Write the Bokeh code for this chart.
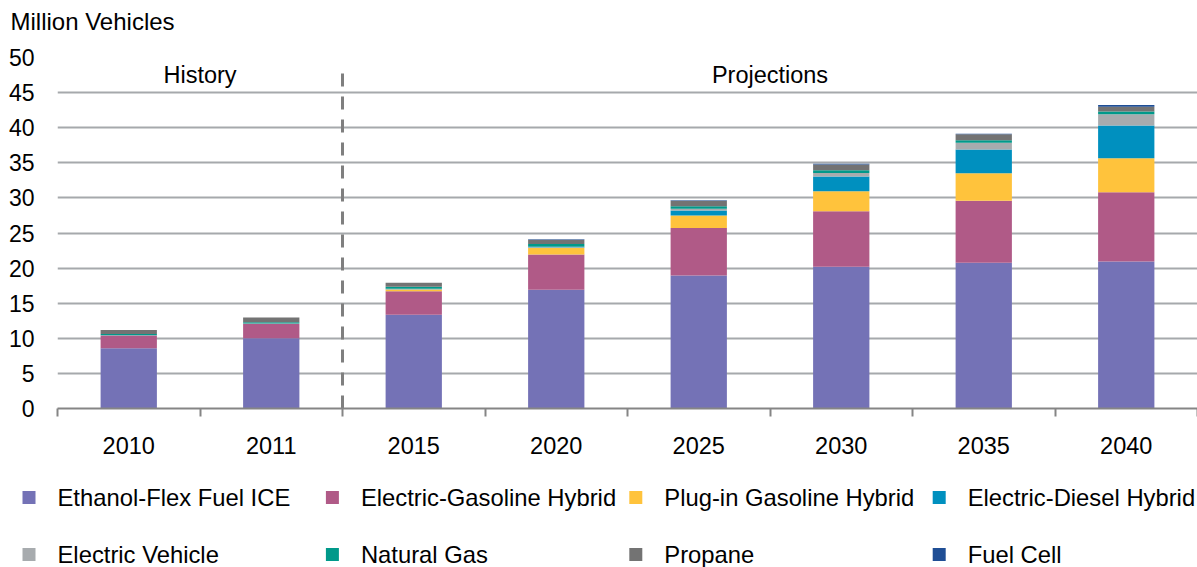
from bokeh.plotting import figure
from bokeh.models import (Range1d, LinearAxis, FixedTicker, Label, ColumnDataSource)
from bokeh.layouts import column
from bokeh.core.properties import value
from bokeh.embed import file_html
from bokeh.resources import INLINE

# ---------------- data ----------------
years = ["2010", "2011", "2015", "2020", "2025", "2030", "2035", "2040"]
history_years = ["2010", "2011"]
ethanol_flex = [8.6, 10.0, 13.35, 16.9, 18.95, 20.2, 20.75, 20.95]
electric_gasoline = [1.8, 2.05, 3.35, 5.05, 6.75, 7.9, 8.85, 9.85]
plugin_gasoline = [0.0, 0.0, 0.25, 0.9, 1.8, 2.85, 3.9, 4.85]
electric_diesel = [0.0, 0.0, 0.05, 0.1, 0.7, 2.1, 3.4, 4.65]
electric_vehicle = [0.05, 0.05, 0.05, 0.1, 0.25, 0.5, 0.95, 1.6]
natural_gas = [0.15, 0.2, 0.3, 0.4, 0.35, 0.4, 0.35, 0.4]
propane = [0.6, 0.65, 0.55, 0.6, 0.8, 0.8, 0.85, 0.7]
fuel_cell = [0.0, 0.0, 0.0, 0.05, 0.05, 0.1, 0.1, 0.25]

series_names = ["Ethanol-Flex Fuel ICE", "Electric-Gasoline Hybrid", "Plug-in Gasoline Hybrid",
                "Electric-Diesel Hybrid", "Electric Vehicle", "Natural Gas", "Propane", "Fuel Cell"]
series_keys = ["ethanol", "egas", "plugin", "ediesel", "ev", "ng", "propane", "fuelcell"]
series_colors = ["#7472B6", "#B05A87", "#FFC33C", "#0090BF", "#A7ABAE", "#00998A", "#737373", "#1F4E95"]
y_ticks = [0, 5, 10, 15, 20, 25, 30, 35, 40, 45, 50]
y_title = "Million Vehicles"

FONT = "Liberation Sans"
FS = "23px"
W = 1197
TOP_H = 40
MAIN_H = 436
LEG_H = 91


def strip(height):
    f = figure(width=W, height=height, x_range=Range1d(0, W), y_range=Range1d(height, 0),
               output_backend="svg", toolbar_location=None,
               x_axis_location=None, y_axis_location=None,
               min_border_left=0, min_border_right=0, min_border_top=0, min_border_bottom=0)
    f.outline_line_color = None
    f.xgrid.visible = False
    f.ygrid.visible = False
    if "frame_align" in f.properties():
        f.frame_align = False
    return f


# ---------------- title strip ----------------
top = strip(TOP_H)
top.text(x=[10], y=[21], text=[y_title], text_font=value(FONT), text_font_size="24px",
         text_color="#000000", text_baseline="middle", text_align="left")

# ---------------- main chart ----------------
xpos = [i + 0.5 for i in range(len(years))]
bounds = list(range(len(years) + 1))

source = ColumnDataSource(dict(
    x=xpos, year=years, ethanol=ethanol_flex, egas=electric_gasoline, plugin=plugin_gasoline,
    ediesel=electric_diesel, ev=electric_vehicle, ng=natural_gas, propane=propane,
    fuelcell=fuel_cell))

p = figure(width=W, height=MAIN_H, x_range=Range1d(0, len(years)), y_range=Range1d(0, 50),
           output_backend="svg", toolbar_location=None, x_axis_location=None,
           min_border_left=57, min_border_right=0, min_border_top=17, min_border_bottom=68)
p.outline_line_color = None
p.background_fill_color = "white"
p.border_fill_color = "white"
if "frame_align" in p.properties():
    p.frame_align = False

p.vbar_stack(series_keys, x="x", width=0.395, source=source,
             color=series_colors, line_width=0)

p.xgrid.grid_line_color = None
p.ygrid.grid_line_color = "#A6A9AC"
p.ygrid.grid_line_width = 2
p.ygrid.ticker = FixedTicker(ticks=y_ticks)
yax = p.yaxis[0]
yax.ticker = FixedTicker(ticks=y_ticks)
yax.axis_line_color = None
yax.major_tick_line_color = None
yax.minor_tick_line_color = None
yax.major_label_text_font = FONT
yax.major_label_text_font_size = FS
yax.major_label_text_color = "#000000"
yax.major_label_standoff = 17

tick_axis = LinearAxis(ticker=FixedTicker(ticks=bounds),
                       major_label_overrides={b: "" for b in bounds},
                       axis_line_color="#858585", axis_line_width=2,
                       major_tick_line_color="#858585", major_tick_line_width=2,
                       major_tick_in=0, major_tick_out=8, minor_tick_line_color=None,
                       major_label_text_font_size="1px", major_label_standoff=0)
p.add_layout(tick_axis, "below")
label_axis = LinearAxis(ticker=FixedTicker(ticks=xpos),
                        major_label_overrides={x: y for x, y in zip(xpos, years)},
                        axis_line_color=None, major_tick_line_color=None,
                        minor_tick_line_color=None, major_label_text_font=FONT,
                        major_label_text_font_size="23.5px", major_label_text_color="#000000",
                        major_label_standoff=14)
p.add_layout(label_axis, "below")

n_hist = len(history_years)
p.segment(x0=[n_hist], x1=[n_hist], y0=[0], y1=[48.9],
          line_color="#7F7F7F", line_width=3, line_dash="13 10")

p.add_layout(Label(x=n_hist / 2, y=47.5, text="History",
                   text_font=FONT, text_font_size="23.5px", text_color="#000000",
                   text_align="center", text_baseline="middle"))
p.add_layout(Label(x=(n_hist + len(years)) / 2, y=47.5, text="Projections",
                   text_font=FONT, text_font_size="23.5px", text_color="#000000",
                   text_align="center", text_baseline="middle"))

# ---------------- legend strip ----------------
lg = strip(LEG_H)
ncols = 4
col_w = 303.4
leg_tx = [57 + (i % ncols) * col_w for i in range(len(series_names))]
leg_y = [21 if i < ncols else 78 for i in range(len(series_names))]
lsrc = ColumnDataSource(dict(gx=[x - 28.5 for x in leg_tx], tx=leg_tx,
                             y=leg_y, name=series_names, color=series_colors))
lg.rect(x="gx", y="y", width=13, height=13, width_units="screen", height_units="screen",
        fill_color="color", line_color=None, source=lsrc)
lg.text(x="tx", y="y", text="name", source=lsrc, text_font=value(FONT),
        text_font_size="23.8px", text_color="#000000", text_baseline="middle", text_align="left")

layout = column(top, p, lg, spacing=0)
open("out.html", "w").write(file_html(layout, INLINE))
